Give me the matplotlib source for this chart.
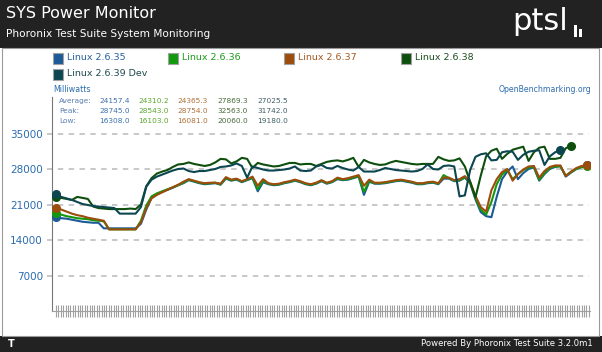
import numpy as np
import matplotlib.pyplot as plt
from matplotlib.patches import Rectangle

W, H = 602, 352

# Series data (milliwatts), one value per sample
names = ["Linux 2.6.35", "Linux 2.6.36", "Linux 2.6.37", "Linux 2.6.38", "Linux 2.6.39 Dev"]

linux_2635 = [18500, 18300, 18200, 18000, 17800, 17600, 17500, 17400, 17400, 16300,
              16300, 16300, 16300, 16300, 16300, 16300, 17200, 20000, 22300, 23000,
              23500, 23900, 24300, 24800, 25200,
              25800, 25500, 25200, 25000, 25100, 25200, 24900, 26100, 25700, 25900,
              25400, 25800, 26200, 23600, 25400, 25000, 24800, 24900, 25200, 25400,
              25700, 25400, 25000, 24800, 25100, 25600, 25100, 25400, 26000, 25800,
              25900, 26200, 26500, 22900, 25500, 25100, 25100, 25200, 25400, 25600,
              25700, 25500, 25300, 25000, 25000, 25200, 25300, 25000, 26100, 26100,
              25600, 25700, 26300, 25200, 22000, 19500, 18700, 18500, 22500, 26000,
              27500, 28500, 26000, 27200, 28000, 28300, 25700, 27000, 28000, 28400,
              28600, 26500, 27300, 28000, 28400, 28700]

linux_2636 = [19300, 19000, 18700, 18500, 18300, 18200, 18100, 17900, 17800, 17700,
              16100, 16100, 16100, 16100, 16100, 16100, 17800, 20800, 22600, 23200,
              23600, 24000, 24400, 24800, 25300,
              25900, 25600, 25300, 25100, 25200, 25300, 25000, 26200, 25800, 26000,
              25500, 25900, 26300, 24000, 25700, 25100, 24900, 25000, 25300, 25500,
              25800, 25500, 25100, 24900, 25200, 25700, 25200, 25500, 26100, 25900,
              26000, 26300, 26600, 23500, 25700, 25200, 25200, 25300, 25500, 25700,
              25800, 25600, 25400, 25100, 25100, 25300, 25400, 25100, 26800, 26200,
              25700, 25800, 26400, 25300, 22300, 20000, 19000, 21500, 25000, 26900,
              27800, 26000, 27000, 27800, 28300, 28400, 25900, 27200, 28200, 28500,
              28500, 26700, 27400, 28000, 28400, 28540]

linux_2637 = [20400, 20000, 19600, 19200, 18900, 18700, 18400, 18200, 18000, 17800,
              16100, 16100, 16100, 16100, 16100, 16100, 17500, 20300, 22200, 22900,
              23400, 23900, 24400, 24900, 25500,
              26000, 25700, 25400, 25200, 25300, 25300, 25100, 26400, 25900, 26100,
              25600, 26000, 26500, 24700, 26000, 25200, 25000, 25100, 25400, 25600,
              25900, 25600, 25200, 25000, 25300, 25800, 25300, 25600, 26300, 26000,
              26200, 26500, 26800, 24700, 25900, 25300, 25300, 25400, 25600, 25800,
              25900, 25700, 25500, 25200, 25200, 25400, 25500, 25200, 26300, 26300,
              25800, 26000, 26600, 25400, 22700, 20500, 19600, 23800, 26000, 27400,
              28000, 25700, 27000, 27900, 28500, 28600, 26300, 27600, 28400, 28700,
              28700, 26600, 27500, 28200, 28600, 28750]

linux_2638 = [22500, 22300, 22100, 21900, 22500, 22300, 22100, 20600, 20300, 20200,
              20100, 20100, 20100, 20100, 20200, 20100, 21000, 24600, 26200, 27100,
              27500, 27800, 28400, 28900, 29000, 29300, 29000, 28800, 28600, 28800,
              29300, 30000, 29900, 29100, 29500, 30200, 30000, 28200, 29200, 28900,
              28700, 28500, 28600, 28900, 29200, 29200, 28900, 29000, 29000, 28600,
              29000, 29400, 29600, 29700, 29500, 29800, 30200, 28400, 29800, 29300,
              29000, 28800, 28900, 29300, 29600, 29400, 29200, 29000, 28900, 29000,
              29000, 29000, 30400, 29900, 29600, 29700, 30100, 28500, 25500, 22400,
              26700, 30500, 31600, 32000, 30000, 31000, 31800, 32100, 32400, 29600,
              31300, 32200, 32400, 30000, 30000, 30200, 32100, 32550]

linux_2639 = [23000, 22500, 22200, 21900, 21500, 21100, 20900, 20700, 20600, 20500,
              20400, 20300, 19200, 19200, 19200, 19200, 20500, 24500, 25900, 26500,
              26900, 27300, 27700, 28000, 28100, 27600, 27400, 27600, 27600, 27800,
              28000, 28400, 28500, 28700, 29100, 28600, 26300, 28500, 28200, 27900,
              27700, 27700, 27800, 27900, 28100, 28500, 27700, 27600, 27700, 28500,
              28800, 28200, 28100, 28600, 28200, 27900, 27700, 28400, 27500, 27500,
              27500, 27800, 28200, 28000, 27800, 27700, 27600, 27500, 27600, 28000,
              28900, 28000, 27900, 28600, 28700, 28500, 22600, 22800, 27800, 30400,
              30900, 31100, 29700, 29800, 31300, 31500, 31400, 29800, 30800, 31400,
              31600, 31700, 28800, 30500, 31300, 31700]

series = [linux_2635, linux_2636, linux_2637, linux_2638, linux_2639]

# Summary table as printed on the chart
avg_vals = ["24157.4", "24310.2", "24365.3", "27869.3", "27025.5"]
peak_vals = ["28745.0", "28543.0", "28754.0", "32563.0", "31742.0"]
low_vals = ["16308.0", "16103.0", "16081.0", "20060.0", "19180.0"]

y_ticks = [7000, 14000, 21000, 28000, 35000]

colors = ["#1c5a98", "#14980f", "#9c4c0c", "#0e4f0e", "#0c4650"]
label_colors = ["#2461a0", "#1c9a1c", "#a55a20", "#1f4f1f", "#1e4a50"]
stat_colors = ["#3b70ad", "#5aa62c", "#b0703a", "#4a6a3a", "#3f5f66"]
blue_text = "#2a6cb0"


def fx(x):
    return x / W


def fy(y):
    return 1 - y / H


fig = plt.figure(figsize=(W / 100, H / 100), dpi=100)
fig.patch.set_facecolor("white")

# Header and footer bars
fig.add_artist(Rectangle((0, fy(48)), 1, 48 / H, transform=fig.transFigure,
                         facecolor="#222222", edgecolor="none"))
fig.add_artist(Rectangle((0, 0), 1, 16 / H, transform=fig.transFigure,
                         facecolor="#222222", edgecolor="none"))
fig.add_artist(Rectangle((fx(1.5), fy(336)), fx(597), 288 / H, transform=fig.transFigure,
                         facecolor="none", edgecolor="#9a9a9a", lw=0.8))

fig.text(fx(6), fy(14), "SYS Power Monitor", color="white", fontsize=11.5, va="center")
fig.text(fx(6), fy(34), "Phoronix Test Suite System Monitoring", color="white",
         fontsize=7.6, va="center")

# logo
fig.text(fx(512), fy(22), "ptsl", color="white", fontsize=22, va="center")
fig.add_artist(Rectangle((fx(574), fy(37)), 3 / W, 12 / H, transform=fig.transFigure,
                         facecolor="white", edgecolor="none"))
fig.add_artist(Rectangle((fx(579), fy(37)), 3 / W, 8 / H, transform=fig.transFigure,
                         facecolor="white", edgecolor="none"))

fig.text(fx(8), fy(344), "T", color="white", fontsize=7, fontweight="bold", va="center")
fig.text(fx(593), fy(344), "Powered By Phoronix Test Suite 3.2.0m1", color="white",
         fontsize=6.1, va="center", ha="right")

# Legend
leg_pos = [(53, 58), (168, 58), (284, 58), (401, 58), (53, 74)]
for (lx, ly), name, c, tc in zip(leg_pos, names, colors, label_colors):
    fig.add_artist(Rectangle((fx(lx), fy(ly + 5.5)), 10 / W, 11 / H,
                             transform=fig.transFigure, facecolor=c,
                             edgecolor="#a0a0a0", lw=0.8))
    fig.text(fx(lx + 14), fy(ly), name, color=tc, fontsize=6.8, va="center")

fig.text(fx(53), fy(90), "Milliwatts", color=blue_text, fontsize=5.7, va="center")
fig.text(fx(591), fy(90), "OpenBenchmarking.org", color=blue_text, fontsize=5.6,
         va="center", ha="right")

# Stats table
col_x = [99, 138, 177, 217, 257]
for row_y, label, vals in [(101, "Average:", avg_vals), (111, "Peak:", peak_vals),
                           (121, "Low:", low_vals)]:
    fig.text(fx(59), fy(row_y), label, color="#5a7fb0", fontsize=5.3, va="center")
    for cx, v, c in zip(col_x, vals, stat_colors):
        fig.text(fx(cx), fy(row_y), v, color=c, fontsize=5.3, va="center")

# Plot area
ax = fig.add_axes([fx(52), fy(311), fx(590) - fx(52), (311 - 97) / H])
ax.set_facecolor("none")
ax.set_xlim(-0.75, 100.57)
ax.set_ylim(0, 42200)

for v in y_ticks:
    ax.plot([-1.6, 100.4], [v, v], color="#c4c4c4", lw=1.3, dashes=(3, 3),
            clip_on=False, zorder=0)

for vals, c in zip(series, colors):
    x = np.arange(len(vals))
    ax.plot(x, vals, color=c, lw=1.5, solid_joinstyle="round", zorder=2)
    ax.plot([x[0], x[-1]], [vals[0], vals[-1]], "o", color=c, ms=5.5, zorder=3)

ax.set_yticks(y_ticks)
ax.set_yticklabels([str(v) for v in y_ticks], color=blue_text, fontsize=7.5)
ax.tick_params(axis="y", length=0, pad=6.5)
ax.set_xticks(np.arange(0, 100.7, 0.452))
ax.tick_params(axis="x", direction="inout", length=8, width=0.8, color="#a0a0a0",
               labelbottom=False)

for s in ["top", "right"]:
    ax.spines[s].set_visible(False)
ax.spines["left"].set_color("#777777")
ax.spines["bottom"].set_color("#a0a0a0")

plt.savefig("out.png", dpi=100)
